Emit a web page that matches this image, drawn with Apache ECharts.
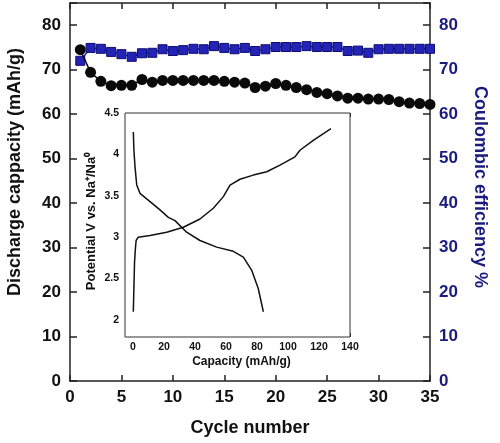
<!DOCTYPE html>
<html>
<head>
<meta charset="utf-8">
<script src="https://cdn.jsdelivr.net/npm/echarts@6/dist/echarts.min.js"></script>
<style>html,body{margin:0;padding:0;background:#fff}#c{width:500px;height:443px}</style>
</head>
<body>
<div id="c"></div>
<script>
// ---- data ----
var cycles = [1,2,3,4,5,6,7,8,9,10,11,12,13,14,15,16,17,18,19,20,21,22,23,24,25,26,27,28,29,30,31,32,33,34,35];
var dischargeCapacity = [74.5,69.4,67.4,66.4,66.5,66.5,67.8,67.2,67.6,67.6,67.6,67.6,67.6,67.6,67.4,67.2,67.0,66.0,66.3,66.9,66.5,66.0,65.5,64.9,64.6,64.1,63.6,63.6,63.4,63.4,63.3,62.8,62.5,62.4,62.2];
var coulombicEfficiency = [72.0,74.9,74.7,74.0,73.5,72.9,73.7,73.8,74.6,74.2,74.4,74.7,74.6,75.3,74.9,74.6,74.9,74.2,74.6,75.1,75.1,75.1,75.3,75.1,75.1,75.1,74.2,74.3,73.8,74.6,74.7,74.7,74.7,74.7,74.7];
var chargeCap = [0.2,0.6,1.0,1.5,2.0,3.4,11,21.7,32.5,43.2,51.8,58.3,62.6,69,77.6,86.3,94.8,104.5,107.7,116.3,127.7];
var chargeV   = [2.10,2.40,2.70,2.85,2.96,3.00,3.02,3.06,3.12,3.22,3.35,3.49,3.63,3.70,3.75,3.79,3.87,3.97,4.05,4.17,4.31];
var dischargeCap = [0.2,0.6,1.3,2.4,4.5,11,17.4,22.8,27.1,34.6,43.2,54,64.7,71.2,76.6,80.8,84.1];
var dischargeV   = [4.27,4.05,3.85,3.63,3.53,3.43,3.33,3.24,3.20,3.06,2.96,2.88,2.83,2.76,2.60,2.38,2.10];
var mainYTicks = [0,10,20,30,40,50,60,70,80];
var insetXTicks = [0,20,40,60,80,100,120,140];

function pairs(a,b){return a.map(function(v,i){return [v,b[i]];});}
var FONT = '"Liberation Sans", Arial, sans-serif';
var NAVY = '#1b1b7e';

var chart = echarts.init(document.getElementById('c'));
var tickFmt = function(v){return mainYTicks.indexOf(v) >= 0 ? String(v) : '';};
var option = {
  animation: false,
  backgroundColor: '#fff',
  grid: [
    {left: 70, top: 3, width: 360, height: 378, show: false},
    {left: 125, top: 113, width: 225, height: 224, show: true, backgroundColor: '#fff', borderColor: '#333', borderWidth: 1, z: 1},
    {left: 133, top: 113, width: 217, height: 207, show: false}
  ],
  xAxis: [
    {gridIndex: 0, type: 'value', min: 0, max: 35, interval: 5, position: 'bottom',
     name: 'Cycle number', nameLocation: 'middle', nameGap: 38,
     nameTextStyle: {fontFamily: FONT, fontWeight: 'bold', fontSize: 18, color: '#111'},
     axisLine: {show: true, onZero: false, lineStyle: {color: '#222', width: 1.5}},
     axisTick: {show: true, inside: true, length: 6, lineStyle: {color: '#222', width: 1.5}},
     axisLabel: {fontFamily: FONT, fontWeight: 'bold', fontSize: 17, color: '#111', margin: 8},
     splitLine: {show: false}},
    {gridIndex: 0, type: 'value', min: 0, max: 35, interval: 5, position: 'top',
     axisLine: {show: true, onZero: false, lineStyle: {color: '#222', width: 1.5}},
     axisTick: {show: true, inside: true, length: 6, lineStyle: {color: '#222', width: 1.5}},
     axisLabel: {show: false}, splitLine: {show: false}},
    {gridIndex: 1, type: 'value', min: 0, max: 1, show: false},
    {gridIndex: 2, type: 'value', min: 0, max: 140, interval: 20, position: 'bottom', offset: 17,
     name: 'Capacity (mAh/g)', nameLocation: 'middle', nameGap: 19,
     nameTextStyle: {fontFamily: FONT, fontWeight: 'bold', fontSize: 12, color: '#111'},
     axisLine: {show: false, onZero: false},
     axisTick: {show: true, inside: true, length: 4, lineStyle: {color: '#333'}},
     axisLabel: {fontFamily: FONT, fontWeight: 'bold', fontSize: 10.5, color: '#111', margin: 5,
                 formatter: function(v){return insetXTicks.indexOf(v) >= 0 ? String(v) : '';}},
     splitLine: {show: false}},
    {gridIndex: 2, type: 'value', min: 0, max: 140, interval: 20, position: 'top',
     axisLine: {show: false, onZero: false},
     axisTick: {show: true, inside: true, length: 4, lineStyle: {color: '#333'}},
     axisLabel: {show: false}, splitLine: {show: false}}
  ],
  yAxis: [
    {gridIndex: 0, type: 'value', min: 0, max: 85, interval: 10, position: 'left',
     axisLine: {show: true, onZero: false, lineStyle: {color: '#222', width: 1.5}},
     axisTick: {show: true, inside: true, length: 7, lineStyle: {color: '#222', width: 1.5}},
     axisLabel: {fontFamily: FONT, fontWeight: 'bold', fontSize: 17, color: '#111', margin: 9, formatter: tickFmt},
     splitLine: {show: false}},
    {gridIndex: 0, type: 'value', min: 0, max: 85, interval: 10, position: 'right',
     axisLine: {show: true, onZero: false, lineStyle: {color: '#222', width: 1.5}},
     axisTick: {show: true, inside: true, length: 7, lineStyle: {color: '#222', width: 1.5}},
     axisLabel: {fontFamily: FONT, fontWeight: 'bold', fontSize: 17, color: NAVY, margin: 9, formatter: tickFmt},
     splitLine: {show: false}},
    {gridIndex: 1, type: 'value', min: 0, max: 1, show: false},
    {gridIndex: 2, type: 'value', min: 2, max: 4.5, interval: 0.5, position: 'left', offset: 8,
     axisLine: {show: false, onZero: false},
     axisTick: {show: true, inside: true, length: 4, lineStyle: {color: '#333'}},
     axisLabel: {fontFamily: FONT, fontWeight: 'bold', fontSize: 10.5, color: '#111', margin: 6},
     splitLine: {show: false}},
    {gridIndex: 2, type: 'value', min: 2, max: 4.5, interval: 0.5, position: 'right',
     axisLine: {show: false, onZero: false},
     axisTick: {show: true, inside: true, length: 4, lineStyle: {color: '#333'}},
     axisLabel: {show: false}, splitLine: {show: false}}
  ],
  graphic: [
    {type: 'text', x: 15, y: 172, rotation: Math.PI / 2,
     style: {text: 'Discharge cappacity (mAh/g)', font: 'bold 18px ' + FONT, fill: '#111', textAlign: 'center', textVerticalAlign: 'middle'}},
    {type: 'text', x: 480, y: 187, rotation: -Math.PI / 2,
     style: {text: 'Coulombic efficiency %', font: 'bold 18px ' + FONT, fill: NAVY, textAlign: 'center', textVerticalAlign: 'middle'}},
    {type: 'text', x: 91, y: 221, rotation: Math.PI / 2, z: 10,
     style: {text: 'Potential V vs. Na\u207A/Na\u2070', font: 'bold 13px ' + FONT, fill: '#111', textAlign: 'center', textVerticalAlign: 'middle'}}
  ],
  series: [
    {type: 'line', name: 'Coulombic efficiency', xAxisIndex: 0, yAxisIndex: 1,
     data: pairs(cycles, coulombicEfficiency), symbol: 'rect', symbolSize: 9,
     itemStyle: {color: '#2323b8', borderColor: '#0d0d70', borderWidth: 1},
     lineStyle: {color: '#2323b8', width: 1.5}, z: 3},
    {type: 'line', name: 'Discharge capacity', xAxisIndex: 0, yAxisIndex: 0,
     data: pairs(cycles, dischargeCapacity), symbol: 'circle', symbolSize: 11,
     itemStyle: {color: '#0a0a0a'}, lineStyle: {color: '#0a0a0a', width: 1.5}, z: 4},
    {type: 'line', name: 'Charge', xAxisIndex: 3, yAxisIndex: 3,
     data: pairs(chargeCap, chargeV), showSymbol: false, symbol: 'none',
     lineStyle: {color: '#111', width: 1.5}, z: 5},
    {type: 'line', name: 'Discharge', xAxisIndex: 3, yAxisIndex: 3,
     data: pairs(dischargeCap, dischargeV), showSymbol: false, symbol: 'none',
     lineStyle: {color: '#111', width: 1.5}, z: 5}
  ]
};
chart.setOption(option);
</script>
</body>
</html>
